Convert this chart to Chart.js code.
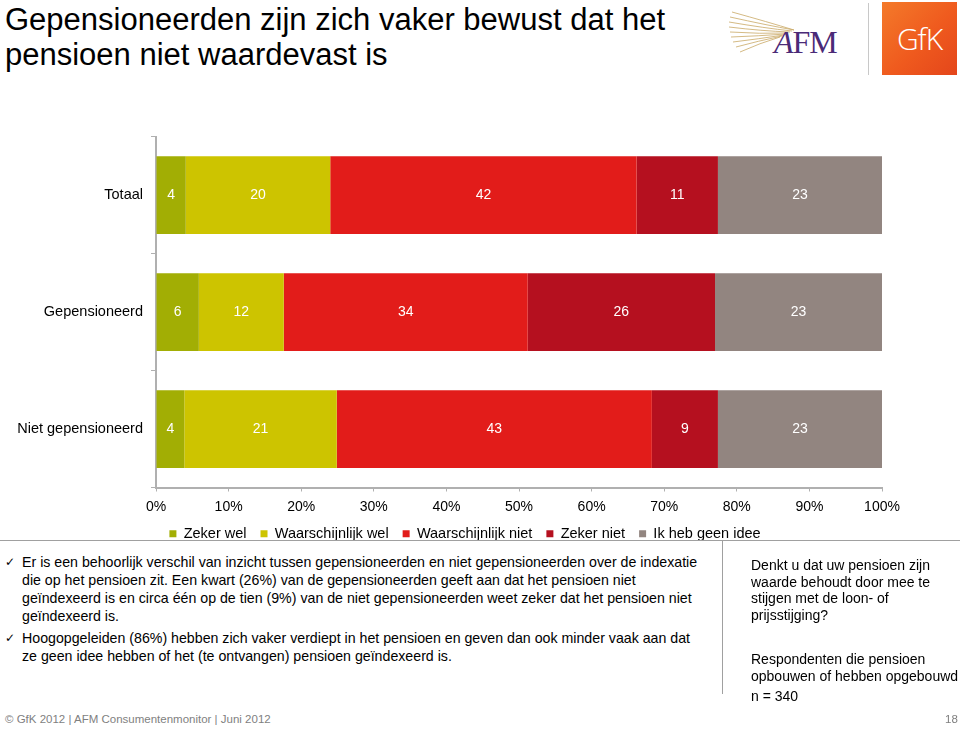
<!DOCTYPE html>
<html lang="nl">
<head>
<meta charset="UTF-8">
<title>Gepensioneerden zijn zich vaker bewust dat het pensioen niet waardevast is</title>
<script src="https://cdn.jsdelivr.net/npm/chart.js"></script>
<style>
    body {
        margin: 0;
        width: 960px;
        height: 730px;
        background: #fff;
        font-family: 'Liberation Sans', Arial, sans-serif;
        position: relative;
        overflow: hidden;
    }
    .abs { position: absolute; }
    h1 {
        position: absolute;
        left: 5px;
        top: 2px;
        margin: 0;
        font-weight: normal;
        font-size: 31px;
        line-height: 35px;
        color: #000;
    }
    #chartBox {
        position: absolute;
        left: 0;
        top: 120px;
        width: 960px;
        height: 431px;
    }
    .hline { position: absolute; left: 0; top: 540px; width: 960px; height: 1px; background: #a0a0a0; }
    .vline { position: absolute; left: 722px; top: 541px; width: 1px; height: 153px; background: #a0a0a0; }
    .bullets {
        position: absolute;
        left: 5px;
        top: 553px;
        width: 702px;
        font-size: 14.2px;
        line-height: 18px;
        color: #000;
    }
    .bullets p { margin: 0 0 4px 17px; position: relative; }
    .bullets p:before { content: '\2713'; position: absolute; left: -17px; font-family: 'DejaVu Sans', sans-serif; font-size: 12px; }
    .side {
        position: absolute;
        left: 751px;
        top: 557px;
        width: 215px;
        font-size: 14px;
        line-height: 16.7px;
        white-space: nowrap;
    }
    .side p { margin: 0; }
    .footer { position: absolute; top: 713px; font-size: 11.5px; color: #7f7f7f; }
    .gfk {
        position: absolute;
        left: 882px; top: 2px; width: 75px; height: 73px;
        background: linear-gradient(135deg, #f47a2a 0%, #ef5a1e 55%, #e4461b 100%);
        color: #fff;
        font-family: 'Open Sans', sans-serif;
        font-weight: 300;
        font-size: 30px;
        line-height: 73px;
        text-align: center;
        letter-spacing: -1px;
    }
    .afm {
        position: absolute;
        left: 774px; top: 24px;
        font-family: 'Liberation Serif', 'DejaVu Serif', serif;
        font-size: 32px;
        color: #4b2a77;
        letter-spacing: -1px;
    }
</style>
</head>
<body>
<h1>Gepensioneerden zijn zich vaker bewust dat het<br>pensioen niet waardevast is</h1>

<svg class="abs" style="left:728px;top:8px" width="70" height="50">
    <g stroke="#c9a865" stroke-width="0.8" fill="none">
        <path d="M4 4 Q40 14 66 22"/>
        <path d="M2 9 Q38 17 66 22"/>
        <path d="M1 14 Q36 20 64 23"/>
        <path d="M1 19 Q34 23 62 24"/>
        <path d="M2 24 Q32 26 60 25"/>
        <path d="M3 29 Q30 28 58 26"/>
        <path d="M5 34 Q30 31 56 27"/>
        <path d="M8 39 Q30 33 54 28"/>
        <path d="M12 44 Q32 35 52 29"/>
    </g>
</svg>
<div class="afm"><i>A</i>FM</div>
<div class="abs" style="left:868px;top:3px;width:1px;height:72px;background:#c8c8c8"></div>
<div class="gfk">GfK</div>

<div id="chartBox"><canvas id="chart" width="960" height="431"></canvas></div>

<div class="hline"></div>
<div class="vline"></div>

<div class="bullets">
    <p>Er is een behoorlijk verschil van inzicht tussen gepensioneerden en niet gepensioneerden over de indexatie die op het pensioen zit. Een kwart (26%) van de gepensioneerden geeft aan dat het pensioen niet geïndexeerd is en circa één op de tien (9%) van de niet gepensioneerden weet zeker dat het pensioen niet geïndexeerd is.</p>
    <p>Hoogopgeleiden (86%) hebben zich vaker verdiept in het pensioen en geven dan ook minder vaak aan dat ze geen idee hebben of het (te ontvangen) pensioen geïndexeerd is.</p>
</div>

<div class="side">
    <p>Denkt u dat uw pensioen zijn<br>waarde behoudt door mee te<br>stijgen met de loon- of<br>prijsstijging?</p>
    <p style="margin-top:27px">Respondenten die pensioen<br>opbouwen of hebben opgebouwd</p>
    <p style="margin-top:4px">n = 340</p>
</div>

<div class="footer" style="left:5px">© GfK 2012 | AFM Consumentenmonitor | Juni 2012</div>
<div class="footer" style="left:945px">18</div>

<script>
const groups = ['Totaal', 'Gepensioneerd', 'Niet gepensioneerd'];
const answers = ['Zeker wel', 'Waarschijnlijk wel', 'Waarschijnlijk niet', 'Zeker niet', 'Ik heb geen idee'];
const colors = ['#a2ae04', '#cdc400', '#e21c1a', '#b5101f', '#928580'];

// percentages per answer, one value per group (Totaal, Gepensioneerd, Niet gepensioneerd)
const zekerWel = [4.1, 5.9, 3.9];
const waarschijnlijkWel = [19.9, 11.7, 21.0];
const waarschijnlijkNiet = [42.2, 33.6, 43.4];
const zekerNiet = [11.2, 25.8, 9.1];
const geenIdee = [22.6, 23.0, 22.6];

const axisTicks = [0, 10, 20, 30, 40, 50, 60, 70, 80, 90, 100];

const series = [zekerWel, waarschijnlijkWel, waarschijnlijkNiet, zekerNiet, geenIdee];
const font = "'Liberation Sans', Arial, sans-serif";

// white numbers in the middle of each segment
const valueLabels = {
    id: 'valueLabels',
    afterDatasetsDraw(chart) {
        const ctx = chart.ctx;
        ctx.save();
        ctx.font = '14px ' + font;
        ctx.fillStyle = '#fff';
        ctx.textAlign = 'center';
        ctx.textBaseline = 'middle';
        chart.data.datasets.forEach((ds, i) => {
            chart.getDatasetMeta(i).data.forEach((bar, j) => {
                ctx.fillText(Math.round(ds.data[j]), (bar.x + bar.base) / 2, bar.y);
            });
        });
        ctx.restore();
    }
};

new Chart(document.getElementById('chart'), {
    type: 'bar',
    data: {
        labels: groups,
        datasets: answers.map((name, i) => ({
            label: name,
            data: series[i],
            backgroundColor: colors[i],
            borderWidth: 0,
            categoryPercentage: 1,
            barPercentage: 0.665
        }))
    },
    options: {
        indexAxis: 'y',
        responsive: false,
        devicePixelRatio: 1,
        animation: false,
        layout: { padding: { top: 15, right: 30, bottom: 0, left: 0 } },
        plugins: {
            legend: {
                position: 'bottom',
                labels: {
                    boxWidth: 7,
                    boxHeight: 7,
                    padding: 14,
                    color: '#000',
                    font: { family: font, size: 14.5 }
                }
            },
            tooltip: { enabled: false }
        },
        scales: {
            x: {
                stacked: true,
                min: 0,
                max: 100,
                afterBuildTicks: scale => { scale.ticks = axisTicks.map(v => ({ value: v })); },
                afterFit: scale => { scale.height = 25; },
                ticks: {
                    callback: v => v + '%',
                    color: '#000',
                    padding: 7,
                    font: { family: font, size: 14 }
                },
                grid: { drawOnChartArea: false, tickLength: 4, color: '#b0b0b0' },
                border: { color: '#b0b0b0', width: 2 }
            },
            y: {
                stacked: true,
                afterFit: scale => { scale.width = 156; },
                ticks: {
                    color: '#000',
                    padding: 8,
                    font: { family: font, size: 14.5 }
                },
                grid: { drawOnChartArea: false, tickLength: 5, color: '#b0b0b0', offset: true },
                border: { color: '#b0b0b0', width: 2 }
            },
            // empty right-hand gutter so the legend sits centred like the original
            gutter: {
                type: 'category',
                axis: 'y',
                position: 'right',
                afterFit: scale => { scale.width = 48; },
                ticks: { display: false },
                grid: { display: false },
                border: { display: false }
            }
        }
    },
    plugins: [valueLabels]
});
</script>
</body>
</html>
